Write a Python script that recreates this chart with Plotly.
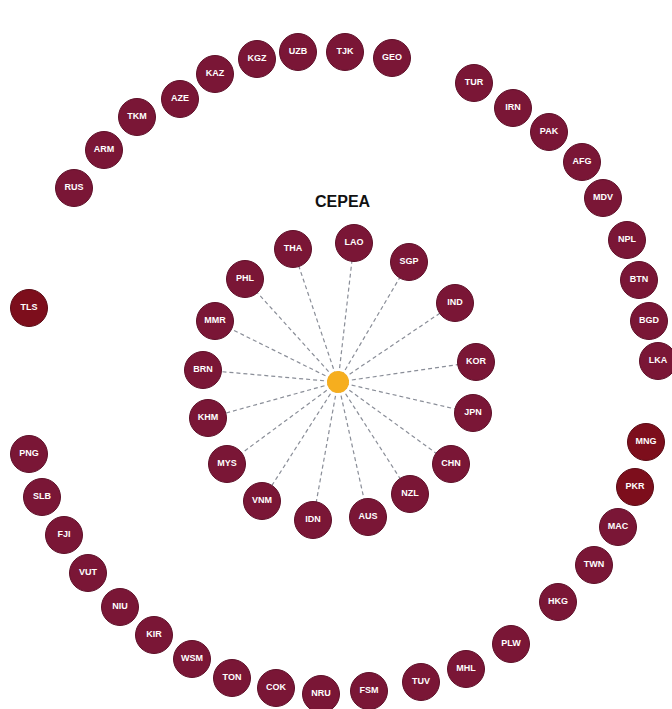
import plotly.graph_objects as go

# Hub
hub_label = "CEPEA"
hub_x = [0]
hub_y = [0]

# Inner ring (CEPEA members) - positions relative to hub (x right, y up)
inner_names = ["LAO", "SGP", "IND", "KOR", "JPN", "CHN", "NZL", "AUS",
               "IDN", "VNM", "MYS", "KHM", "BRN", "MMR", "PHL", "THA"]
inner_x = [16, 71, 117, 138, 135, 113, 72, 30, -25, -76, -111, -130, -135, -123, -93, -45]
inner_y = [139, 120, 79, 20, -31, -82, -112, -135, -138, -119, -82, -36, 12, 61, 103, 133]

# Outer ring (non-members)
outer_names = ["RUS", "ARM", "TKM", "AZE", "KAZ", "KGZ", "UZB", "TJK", "GEO",
               "TUR", "IRN", "PAK", "AFG", "MDV", "NPL", "BTN", "BGD", "LKA",
               "HKG", "TWN", "MAC", "PLW", "MHL", "TUV", "FSM", "NRU", "COK",
               "TON", "WSM", "KIR", "NIU", "VUT", "FJI", "SLB", "PNG"]
outer_x = [-264, -234, -201, -158, -123, -81, -40, 7, 54,
           136, 175, 211, 244, 265, 289, 301, 311, 320,
           220, 256, 280, 173, 128, 83, 31, -17, -62,
           -106, -146, -184, -218, -250, -274, -296, -309]
outer_y = [194, 232, 265, 283, 308, 323, 330, 330, 324,
           299, 274, 250, 220, 184, 142, 102, 61, 21,
           -220, -183, -145, -262, -287, -300, -309, -312, -306,
           -296, -277, -253, -225, -191, -153, -115, -72]

# Highlighted (darker red) nodes
special_names = ["TLS", "MNG", "PKR"]
special_x = [-309, 308, 297]
special_y = [74, -60, -105]

node_color = "#7a1636"
special_color = "#7d0e1c"
hub_color = "#f6ae1e"
edge_color = "#8a8e98"

fig = go.Figure()

# Edges from hub to inner members
ex, ey = [], []
for x, y in zip(inner_x, inner_y):
    ex += [hub_x[0], x, None]
    ey += [hub_y[0], y, None]
fig.add_trace(go.Scatter(x=ex, y=ey, mode="lines",
                         line=dict(color=edge_color, width=1.2, dash="4px,3px"),
                         hoverinfo="skip", showlegend=False))

label_font = dict(family="Liberation Sans, Arial, sans-serif", size=9, color="white")


def bold(names):
    return ["<b>" + n + "</b>" for n in names]


fig.add_trace(go.Scatter(x=inner_x, y=inner_y, mode="markers+text", text=bold(inner_names),
                         textposition="middle center", textfont=label_font,
                         marker=dict(size=37, color=node_color, line=dict(width=1, color="#5e0f28")),
                         showlegend=False))
fig.add_trace(go.Scatter(x=outer_x, y=outer_y, mode="markers+text", text=bold(outer_names),
                         textposition="middle center", textfont=label_font,
                         marker=dict(size=37, color=node_color, line=dict(width=1, color="#5e0f28")),
                         showlegend=False))
fig.add_trace(go.Scatter(x=special_x, y=special_y, mode="markers+text", text=bold(special_names),
                         textposition="middle center", textfont=label_font,
                         marker=dict(size=37, color=special_color, line=dict(width=1, color="#5a0a14")),
                         showlegend=False))
fig.add_trace(go.Scatter(x=hub_x, y=hub_y, mode="markers",
                         marker=dict(size=22, color=hub_color, line=dict(width=0)),
                         showlegend=False))

fig.add_annotation(x=5, y=181, text="<b>" + hub_label + "</b>", showarrow=False,
                   font=dict(family="Liberation Sans, Arial, sans-serif", size=16, color="#111111"))

fig.update_layout(
    width=672, height=709,
    margin=dict(l=0, r=0, t=0, b=0),
    paper_bgcolor="white", plot_bgcolor="white",
    xaxis=dict(range=[-338, 334], visible=False, fixedrange=True),
    yaxis=dict(range=[-327, 382], visible=False, fixedrange=True),
)

fig.write_html("out.html", config={"displayModeBar": False},
               post_script="document.body.style.margin='0';document.body.style.overflow='hidden';")
